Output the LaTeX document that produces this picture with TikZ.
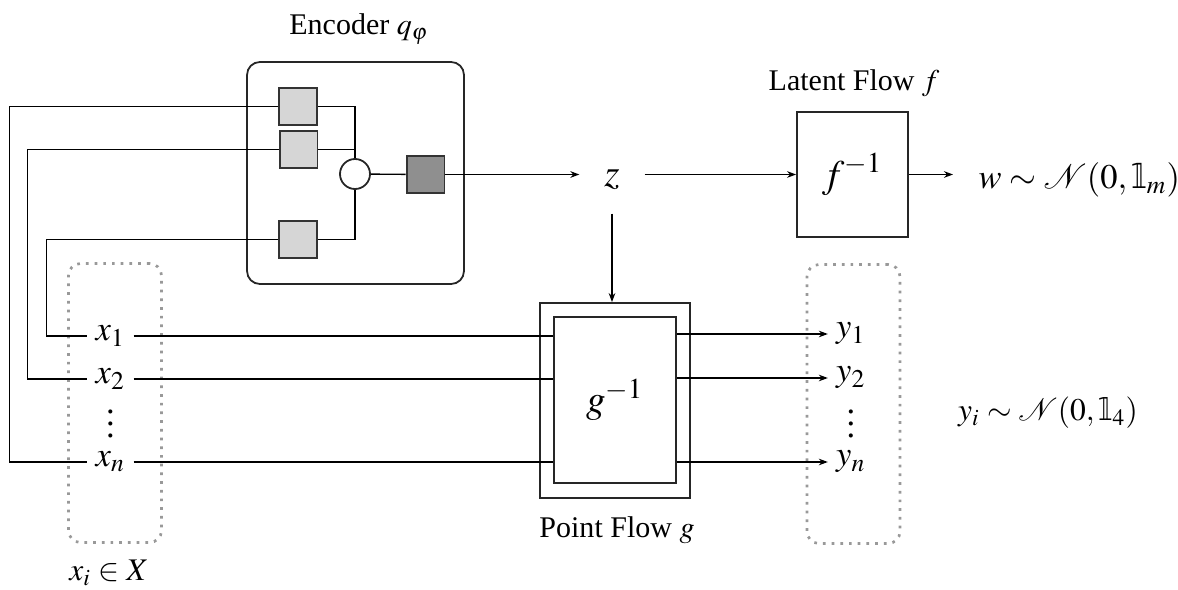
\documentclass[tikz,border=0pt]{standalone}
\usepackage{mathptmx}
\usepackage{fontspec}
\setmainfont{Liberation Serif}
\newfontfamily\bbfont{DejaVu Sans}
\newcommand{\bbone}{\mbox{\scalebox{0.72}[1]{\bbfont\symbol{"1D7D9}}}}
\usetikzlibrary{arrows.meta, calc, positioning}

\begin{document}
\begin{tikzpicture}[x=0.3333pt, y=-0.3333pt, >={Stealth[length=3pt,width=2.2pt]},
    line width=0.45pt,
    title/.style={anchor=base, font=\fontsize{10}{12}\selectfont},
    unit/.style={draw=black!80, line width=0.6pt, fill=black!16, minimum width=12.6pt, minimum height=12.3pt, inner sep=0pt},
    flowbox/.style={draw=black!85, line width=0.6pt, inner sep=0pt},
    pointset/.style={draw=black!40, dotted, line width=0.9pt, rounded corners=4pt, minimum width=31pt, minimum height=93pt},
    pt/.style={minimum width=15pt, inner sep=0pt, font=\fontsize{11.5}{13}\selectfont},
    big/.style={font=\fontsize{13}{15}\selectfont}]
    \useasboundingbox (0,0) rectangle (1178,590);

    % encoder
    \node[title] (enctitle) at (359,35) {Encoder $q_\varphi$};
    \node[draw=black!85, line width=0.6pt, rounded corners=4.3pt, minimum width=72.3pt, minimum height=74pt] (enc) at (355.5,173) {};
    \node[unit] (lb1) at (298,106.5) {};
    \node[unit] (lb2) at (298.5,149.5) {};
    \node[unit] (lb3) at (298,239.5) {};
    \node[draw=black!85, line width=0.6pt, circle, minimum size=10pt, inner sep=0pt] (sum) at (355,174) {};
    \node[unit, fill=black!44] (dark) at (425.5,174.5) {};
    \draw (lb1.east) -| (sum.north);
    \draw (lb2.east) -- (lb2.east -| sum.north);
    \draw (lb3.east) -| (sum.south);
    \draw (sum) -- (dark);

    % latent code and latent flow
    \node[big, minimum width=21.3pt, minimum height=22pt, inner sep=0pt] (z) at (612,180) {$z$};
    \draw[->] (dark.east) -- (dark.east -| z.west);
    \node[flowbox, minimum width=37pt, minimum height=41.7pt, big] (fbox) at (852.5,174.5) {$f^{-1}$};
    \node[title] (ftitle) at (854,91) {Latent Flow $f$};
    \draw[->] (z.east |- fbox.west) -- (fbox.west);
    \node[font=\fontsize{11.5}{13}\selectfont, anchor=west, inner xsep=8.3pt, inner ysep=0pt] (wdist) at (953,180) {$w \sim \mathcal{N}(0,\bbone_m)$};
    \draw[->] (fbox.east) -- (fbox.east -| wdist.west);

    % point flow
    \node[flowbox, minimum width=50pt, minimum height=65pt] (gout) at (615,400.5) {};
    \node[flowbox, minimum width=40.7pt, minimum height=55.3pt, big] (gin) at (615,400) {$g^{-1}$};
    \node[title] (gtitle) at (617,537) {Point Flow $g$};
    \draw[->] (z.south) -- (z.south |- gout.north);

    % input points
    \node[pointset] (xset) at (115,403) {};
    \node[pt] (x1) at (110.5,336) {$x_1$};
    \node[pt] (x2) at (110.5,379) {$x_2$};
    \node[pt] (xdots) at (110.5,415) {$\vdots$};
    \node[pt] (xn) at (110.5,462) {$x_n$};
    \node[font=\fontsize{10.5}{12}\selectfont] (xdist) at (109,573) {$x_i \in X$};
    \draw (lb1.west) -- ++(-269,0) |- (xn.west);
    \draw (lb2.west) -- ++(-251.5,0) |- (x2.west);
    \draw (lb3.west) -- ++(-232,0) |- (x1.west);
    \foreach \p in {x1,x2,xn}
        \draw (\p.east) -- (\p.east -| gin.west);

    % output points
    \node[pointset] (yset) at (853.5,404) {};
    \node[pt] (y1) at (851,334) {$y_1$};
    \node[pt] (y2) at (851,378) {$y_2$};
    \node[pt] (ydots) at (851,415) {$\vdots$};
    \node[pt] (yn) at (851,462) {$y_n$};
    \node[font=\fontsize{10.5}{12}\selectfont] (ydist) at (1048,413) {$y_i \sim \mathcal{N}(0,\bbone_4)$};
    \foreach \p in {y1,y2,yn}
        \draw[->] (gin.east |- \p) -- (\p.west);
\end{tikzpicture}
\end{document}
